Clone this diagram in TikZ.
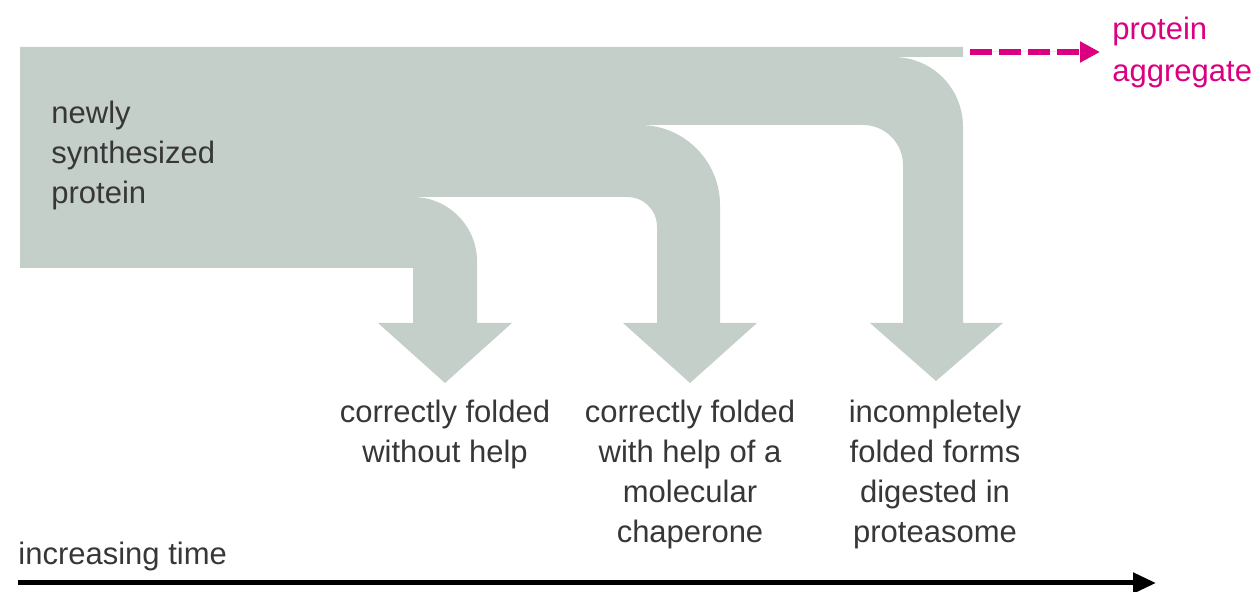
\documentclass[tikz,border=0pt]{standalone}
\usepackage{fontspec}
\setmainfont{Liberation Sans}
\usepackage{xcolor}
\usetikzlibrary{arrows.meta, positioning}
\definecolor{bandgray}{RGB}{197,207,202}
\definecolor{aggpink}{RGB}{218,0,128}
\definecolor{labelgray}{RGB}{55,55,55}

\begin{document}
\begin{tikzpicture}[
    x=0.5pt, y=-0.5pt,
    band/.style={fill=bandgray, draw=none},
    lbl/.style={font=\fontsize{15.5}{20}\selectfont, text=labelgray, align=center, inner sep=0pt},
    agglbl/.style={lbl, text=aggpink, align=left, font=\fontsize{15.5}{21}\selectfont},
    aggarr/.style={-{Triangle[length=10pt, width=10pt]}, draw=aggpink, fill=aggpink, line width=3pt, dash pattern=on 11pt off 3.5pt},
    timearr/.style={-{Triangle[length=11.5pt, width=10pt]}, draw=black, line width=2.5pt}
]
\useasboundingbox (0,0) rectangle (1259,592);

% Folding pathways (one band splitting into three arrows)
\fill[band] (20,47) -- (963,47) -- (963,57) -- (893,57)
  .. controls (932,57) and (963,88) .. (963,127)
  -- (963,323) -- (1003,323) -- (936,381) -- (870,323) -- (903,323)
  -- (903,165) .. controls (903,143) and (885,125) .. (863,125)
  -- (640,125) .. controls (684,125) and (720,161) .. (720,205)
  -- (720,323) -- (757,323) -- (690,383) -- (623,323) -- (657,323)
  -- (657,227) .. controls (657,210) and (644,197) .. (627,197)
  -- (413,197) .. controls (448,197) and (477,226) .. (477,261)
  -- (477,323) -- (512,323) -- (445,383) -- (378,323) -- (413,323)
  -- (413,268) -- (20,268) -- cycle;

% Labels
\node[lbl, align=left, anchor=north west] (newprot) at (51,101) {newly\\synthesized\\protein};
\node[lbl, anchor=north] (nohelp) at (445,400) {correctly folded\\without help};
\node[lbl, anchor=north] (chap) at (690,400) {correctly folded\\with help of a\\molecular\\chaperone};
\node[lbl, anchor=north] (proteas) at (935,400) {incompletely\\folded forms\\digested in\\proteasome};
\node[agglbl, anchor=north west] (agg) at (1112,17) {protein\\aggregate};
\node[lbl, anchor=base west] (timelbl) at (18,565) {increasing time};

% Aggregate and time arrows
\coordinate (aggstart) at (970,52);
\draw[aggarr] (aggstart) -- ([xshift=-6pt]aggstart -| agg.west);
\coordinate (tstart) at (18,583);
\coordinate (tend) at (1156,583);
\draw[timearr] (tstart) -- (tend);
\end{tikzpicture}
\end{document}
